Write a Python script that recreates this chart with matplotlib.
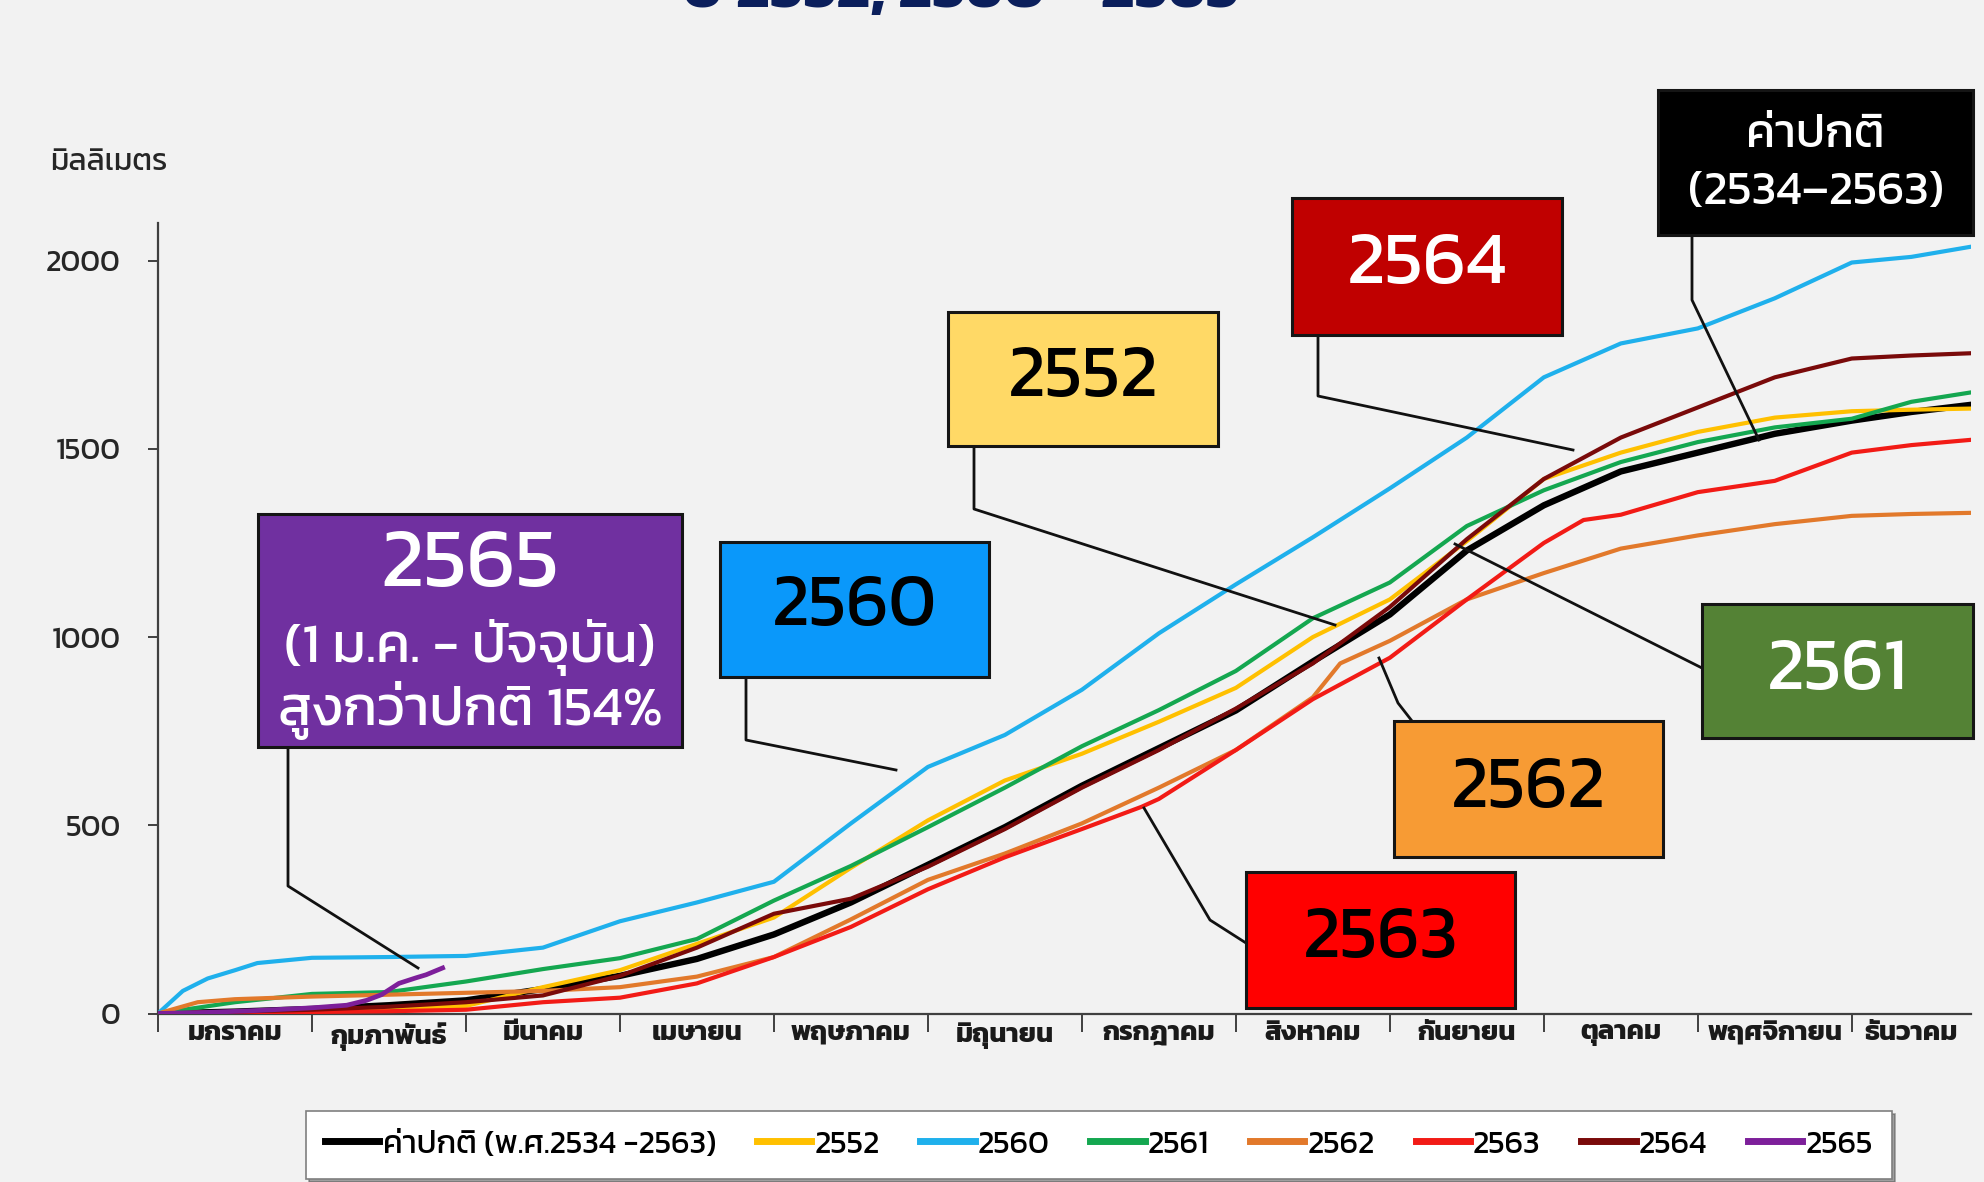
import matplotlib
matplotlib.use("Agg")
import matplotlib.pyplot as plt
from matplotlib import font_manager
from matplotlib.lines import Line2D
from matplotlib.patches import Rectangle

W, H = 1984, 1182

# cumulative rainfall (mm), x = day of year
normal_days = [0, 15.5, 31, 46.5, 62, 77.5, 93, 108.5, 124, 139.5, 155, 170.5, 186, 201.5,
               217, 232.5, 248, 263.5, 279, 294.5, 310, 325.5, 341, 353, 365]
normal_mm = [0, 5, 12, 22, 35, 65, 100, 145, 210, 295, 395, 495, 605, 705,
             805, 935, 1060, 1230, 1350, 1440, 1490, 1540, 1575, 1598, 1617]

y2552_days = [0, 15.5, 31, 46.5, 62, 77.5, 93, 108.5, 124, 139.5, 155, 170.5, 186, 201.5,
              217, 232.5, 248, 263.5, 279, 294.5, 310, 325.5, 341, 353, 365]
y2552_mm = [0, 4, 8, 12, 20, 70, 115, 185, 255, 387, 513, 619, 690, 775,
            865, 1000, 1100, 1255, 1420, 1490, 1545, 1583, 1600, 1604, 1607]

y2560_days = [0, 5, 10, 15.5, 20, 31, 46.5, 62, 77.5, 93, 108.5, 124, 139.5, 155, 170.5, 186,
              201.5, 217, 232.5, 248, 263.5, 279, 294.5, 310, 325.5, 341, 353, 365]
y2560_mm = [0, 60, 93, 115, 134, 148, 150, 153, 175, 245, 295, 350, 505, 655, 740, 860,
            1010, 1140, 1265, 1395, 1530, 1690, 1780, 1820, 1900, 1995, 2010, 2037]

y2561_days = [0, 15.5, 31, 46.5, 62, 77.5, 93, 108.5, 124, 139.5, 155, 170.5, 186, 201.5,
              217, 232.5, 248, 263.5, 279, 294.5, 310, 325.5, 341, 353, 365]
y2561_mm = [0, 30, 52, 57, 85, 118, 147, 198, 300, 392, 495, 600, 710, 806,
            910, 1050, 1145, 1295, 1390, 1465, 1518, 1557, 1580, 1625, 1650]

y2562_days = [0, 8, 15.5, 31, 46.5, 62, 77.5, 93, 108.5, 124, 139.5, 155, 170.5, 186, 201.5,
              217, 232.5, 238, 248, 263.5, 279, 294.5, 310, 325.5, 341, 353, 365]
y2562_mm = [0, 30, 38, 45, 50, 55, 60, 70, 98, 150, 250, 355, 425, 505, 600,
            700, 840, 930, 990, 1100, 1170, 1235, 1270, 1300, 1322, 1327, 1330]

y2563_days = [0, 15.5, 31, 46.5, 62, 77.5, 93, 108.5, 124, 139.5, 155, 170.5, 186, 198, 201.5,
              217, 232.5, 248, 263.5, 279, 287, 294.5, 310, 325.5, 341, 353, 365]
y2563_mm = [0, 2, 4, 6, 10, 30, 42, 80, 150, 230, 330, 415, 490, 549, 570,
            700, 835, 945, 1100, 1250, 1311, 1325, 1385, 1415, 1490, 1510, 1524]

y2564_days = [0, 15.5, 31, 46.5, 62, 77.5, 93, 108.5, 124, 139.5, 155, 170.5, 186, 201.5,
              217, 232.5, 248, 263.5, 279, 294.5, 310, 325.5, 341, 353, 365]
y2564_mm = [0, 5, 10, 18, 30, 48, 100, 175, 265, 305, 390, 490, 600, 700,
            810, 930, 1080, 1260, 1420, 1530, 1610, 1690, 1740, 1748, 1754]

y2565_days = [0, 10, 20, 31, 38, 42, 45, 48.5, 52, 54, 57.3]
y2565_mm = [0, 3, 8, 15, 22, 35, 50, 80, 95, 103, 121]

months = ['มกราคม', 'กุมภาพันธ์', 'มีนาคม', 'เมษายน', 'พฤษภาคม', 'มิถุนายน',
          'กรกฎาคม', 'สิงหาคม', 'กันยายน', 'ตุลาคม', 'พฤศจิกายน', 'ธันวาคม']

avail = {f.name for f in font_manager.fontManager.ttflist}
def pick(*names):
    for n in names:
        if n in avail:
            return n
    return 'DejaVu Sans'

thai = pick('Kanit', 'Prompt', 'Anuphan', 'Noto Sans Thai', 'IBM Plex Sans Thai')
plt.rcParams['font.family'] = [thai, 'DejaVu Sans']

bg = '#F2F2F2'
fig = plt.figure(figsize=(W / 100, H / 100), dpi=100, facecolor=bg)
ax = fig.add_axes([158 / W, 1 - 1013.5 / H, (1971 - 158) / W, (1013.5 - 223) / H])
ax.set_facecolor(bg)
ax.set_xlim(0, 365)
ax.set_ylim(0, 2100)

series = [
    ('ค่าปกติ (พ.ศ.2534 -2563)', normal_days, normal_mm, '#000000', 4.6),
    ('2552', y2552_days, y2552_mm, '#FFC000', 3.0),
    ('2560', y2560_days, y2560_mm, '#1FB0EC', 3.0),
    ('2561', y2561_days, y2561_mm, '#14A750', 3.0),
    ('2562', y2562_days, y2562_mm, '#E2792B', 3.0),
    ('2563', y2563_days, y2563_mm, '#F21B16', 3.0),
    ('2564', y2564_days, y2564_mm, '#7A0A0A', 3.0),
    ('2565', y2565_days, y2565_mm, '#7D1F9A', 3.4),
]
handles = []
for lab, xs, ys, c, lw in series:
    ax.plot(xs, ys, color=c, lw=lw, solid_joinstyle='round', zorder=3)
    handles.append(Line2D([], [], color=c, lw=5, label=lab))

for s in ['top', 'right']:
    ax.spines[s].set_visible(False)
for s in ['left', 'bottom']:
    ax.spines[s].set_color('#404040')
    ax.spines[s].set_linewidth(1.6)

ax.set_yticks([0, 500, 1000, 1500, 2000])
ax.set_yticklabels(['0', '500', '1000', '1500', '2000'], fontsize=22, color='#262626')
ax.tick_params(axis='y', length=7, width=1.4, color='#404040', pad=20)

ax.set_xticks([31 * i for i in range(12)])
ax.set_xticklabels([])
ax.tick_params(axis='x', which='major', length=13, width=1.4, color='#404040')
ax.set_xticks([31 * i + 15.5 for i in range(11)] + [353], minor=True)
ax.set_xticklabels(months, minor=True, fontsize=19.5, fontweight='bold', color='#1a1a1a')
ax.tick_params(axis='x', which='minor', length=0, pad=6)

fig.text(50 / W, 1 - 162 / H, 'มิลลิเมตร', fontsize=22, color='#262626', ha='left', va='center')

# title, cut off at the top edge in the original
fig.text(960 / W, 1 - 7 / H, 'ปี 2552, 2560 - 2565', fontsize=46, fontweight='bold',
         color='#0B1F5C', ha='center', va='baseline')

leg = fig.legend(handles=handles, loc='center', ncol=8, mode='expand',
                 bbox_to_anchor=(306 / W, 1 - 1177 / H, 1586 / W, 64 / H),
                 fontsize=23, handlelength=1.7, handletextpad=0.1, columnspacing=0.8,
                 frameon=True, fancybox=False, shadow=True, borderaxespad=0, borderpad=0.6)
leg.get_frame().set_facecolor('white')
leg.get_frame().set_edgecolor('#7f7f7f')
leg.get_frame().set_linewidth(1.2)

# label boxes: text lines (text, y px, size), box px, face, text colour, leader px
boxes = [
    ([('2565', 567, 61), ('(1 ม.ค. - ปัจจุบัน)', 648, 40), ('สูงกว่าปกติ 154%', 711, 40)],
     (258, 514, 682, 747), '#7030A0', 'white',
     [(288, 747), (288, 886), (418, 968)]),
    ([('2560', 608, 53)], (720, 542, 989, 677), '#0A98FA', 'black',
     [(746, 677), (746, 740), (896, 770)]),
    ([('2552', 379, 53)], (948, 312, 1218, 446), '#FFD966', 'black',
     [(974, 446), (974, 509), (1335, 625)]),
    ([('2564', 266, 54)], (1292, 198, 1562, 335), '#C00000', 'white',
     [(1318, 335), (1318, 396), (1573, 450)]),
    ([('ค่าปกติ', 136, 34), ('(2534–2563)', 193, 34)], (1658, 90, 1973, 235), '#000000', 'white',
     [(1692, 235), (1692, 300), (1759, 440)]),
    ([('2561', 672, 53)], (1702, 604, 1973, 738), '#548235', 'white',
     [(1702, 668), (1455, 544)]),
    ([('2562', 790, 53)], (1394, 721, 1663, 857), '#F79B34', 'black',
     [(1412, 721), (1398, 703), (1379, 658)]),
    ([('2563', 940, 53)], (1246, 872, 1515, 1008), '#FF0000', 'black',
     [(1246, 943), (1210, 920), (1144, 808)]),
]

def fx(px):
    return px / W

def fy(py):
    return 1 - py / H

for lines, (x0, y0, x1, y1), face, tc, leader in boxes:
    fig.add_artist(Line2D([fx(p[0]) for p in leader], [fy(p[1]) for p in leader],
                          color='#111111', lw=2.0, transform=fig.transFigure, zorder=5))
    fig.add_artist(Rectangle((fx(x0), fy(y1)), fx(x1 - x0), (y1 - y0) / H,
                             facecolor=face, edgecolor='#151515', lw=2.2,
                             transform=fig.transFigure, zorder=6))
    for txt, ty, fs in lines:
        fig.text(fx((x0 + x1) / 2), fy(ty), txt, fontsize=fs, color=tc,
                 ha='center', va='center', zorder=7)

fig.savefig('out.png', dpi=100, facecolor=bg)
